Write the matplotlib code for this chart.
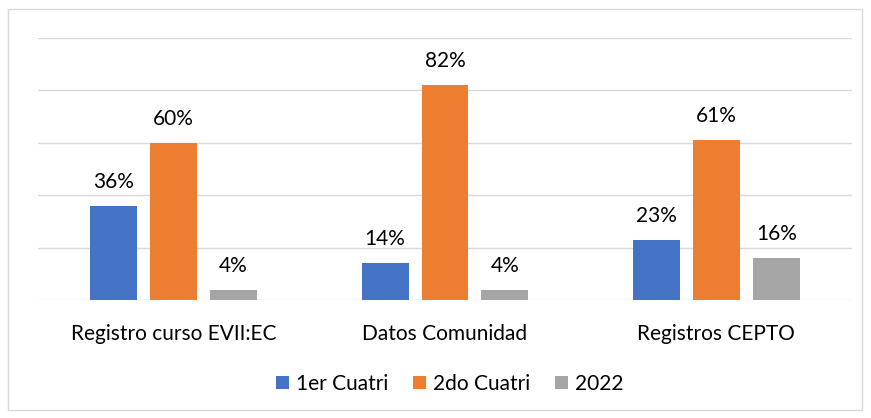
import matplotlib
matplotlib.use('Agg')
import matplotlib.pyplot as plt
from matplotlib.patches import Rectangle
import numpy as np

# Datos del gráfico
categorias = ['Registro curso EVII:EC', 'Datos Comunidad', 'Registros CEPTO']
series = ['1er Cuatri', '2do Cuatri', '2022']
valores_1er = [36, 14, 23]
valores_2do = [60, 82, 61]
valores_2022 = [4, 4, 16]
colores = ['#4472C4', '#ED7D31', '#A5A5A5']

plt.rcParams['font.family'] = ['Lato', 'DejaVu Sans']
tam = 15

fig = plt.figure(figsize=(8.71, 4.18), dpi=100)
ax = fig.add_axes([38 / 871, 118 / 418, 814 / 871, 262 / 418])

# Borde del gráfico
fig.patches.append(Rectangle((8 / 871, 8 / 418), 854 / 871, 401 / 418,
                             transform=fig.transFigure, fill=False,
                             edgecolor='#D9D9D9', linewidth=1))

x = np.arange(len(categorias))
ancho = 0.173
paso = 0.221
for i, (nombre, vals) in enumerate(zip(series, [valores_1er, valores_2do, valores_2022])):
    barras = ax.bar(x + (i - 1) * paso, vals, ancho, color=colores[i], label=nombre, zorder=3)
    for b, v in zip(barras, vals):
        ax.annotate(f'{v}%', (b.get_x() + b.get_width() / 2, v), xytext=(0, 10),
                    textcoords='offset points', ha='center', va='bottom',
                    fontsize=tam, color='#000000')

ax.set_xlim(-0.5, 2.5)
ax.set_ylim(0, 100)
ax.set_yticks([0, 20, 40, 60, 80, 100])
ax.yaxis.grid(True, color='#D9D9D9', linewidth=1)
ax.set_axisbelow(True)
ax.tick_params(left=False, labelleft=False, bottom=False)
ax.set_xticks(x)
ax.set_xticklabels(categorias, fontsize=tam)
ax.tick_params(axis='x', pad=14)
for s in ax.spines.values():
    s.set_visible(False)

fig.legend(loc='center', bbox_to_anchor=(450 / 871, 1 - 384 / 418), ncol=3, frameon=False,
           fontsize=tam, handlelength=0.6, handleheight=0.6, handletextpad=0.35, columnspacing=1.2)

fig.savefig('out.png', dpi=100)
